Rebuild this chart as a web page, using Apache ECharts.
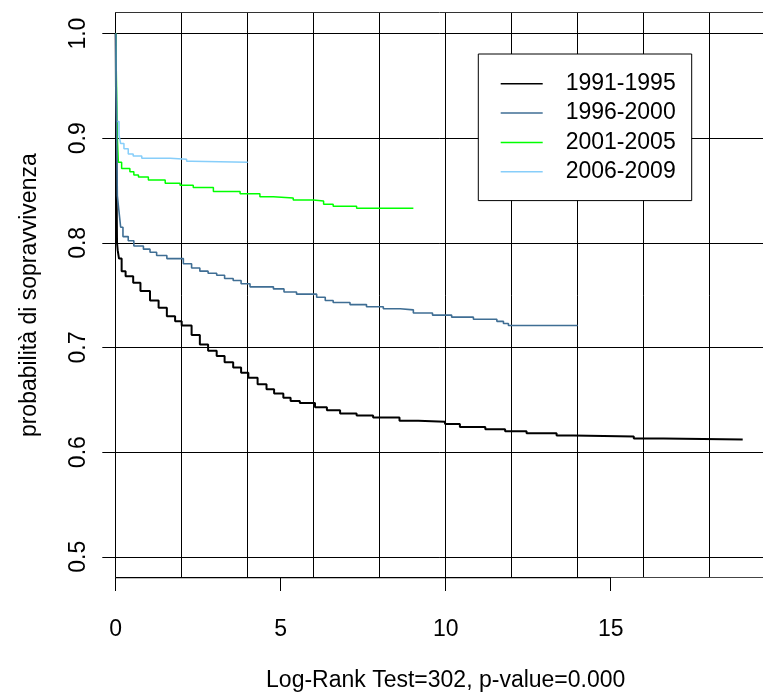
<!DOCTYPE html>
<html>
<head>
<meta charset="utf-8">
<script src="https://cdn.jsdelivr.net/npm/echarts@6/dist/echarts.min.js"></script>
<style>html,body{margin:0;padding:0;background:#fff;}#c{width:763px;height:692px;}</style>
</head>
<body>
<div id="c"></div>
<script>
const seriesNames = ['1991-1995', '1996-2000', '2001-2005', '2006-2009'];
const seriesColors = ['#000000', '#3F6E94', '#00FF00', '#87CEFA'];

const km1991 = [[0,1],[0.02,0.875],[0.04,0.80],[0.06,0.793],[0.1,0.785],[0.18,0.773],[0.3,0.768],[0.53,0.762],[0.75,0.754],[1.04,0.745],[1.3,0.738],[1.55,0.730],[1.8,0.725],[2.0,0.721],[2.3,0.712],[2.55,0.703],[2.8,0.697],[3.06,0.692],[3.3,0.686],[3.56,0.681],[3.8,0.676],[4.02,0.671],[4.3,0.665],[4.57,0.660],[4.8,0.656],[5.08,0.652],[5.3,0.649],[5.58,0.647],[6.04,0.643],[6.4,0.640],[6.8,0.637],[7.3,0.635],[7.8,0.633],[8.6,0.630],[9.17,0.629],[9.98,0.627],[10.43,0.624],[11.2,0.622],[11.8,0.620],[12.45,0.618],[13.36,0.616],[13.87,0.615],[15.7,0.613],[16.6,0.612],[19.0,0.612]];
const km1996 = [[0,1],[0.05,0.845],[0.1,0.83],[0.15,0.815],[0.22,0.806],[0.38,0.802],[0.55,0.797],[0.84,0.794],[1.04,0.791],[1.24,0.788],[1.55,0.785],[2.05,0.780],[2.3,0.776],[2.55,0.773],[2.8,0.771],[3.06,0.769],[3.3,0.766],[3.56,0.764],[3.8,0.761],[4.07,0.758],[4.78,0.756],[5.1,0.753],[5.48,0.751],[6.09,0.748],[6.35,0.745],[6.59,0.743],[7.1,0.741],[7.6,0.739],[8.11,0.737],[8.62,0.736],[9.02,0.733],[9.6,0.731],[10.18,0.729],[10.84,0.727],[11.55,0.725],[11.75,0.723],[11.9,0.721],[14.0,0.721]];
const km2001 = [[0,1],[0.05,0.90],[0.08,0.877],[0.18,0.871],[0.43,0.868],[0.55,0.865],[0.69,0.863],[0.99,0.860],[1.5,0.857],[1.95,0.855],[2.35,0.853],[2.96,0.849],[3.77,0.847],[4.37,0.844],[4.78,0.843],[5.38,0.841],[5.99,0.840],[6.3,0.837],[6.59,0.835],[7.3,0.833],[9.02,0.833]];
const km2006 = [[0,1],[0.03,0.916],[0.1,0.903],[0.15,0.895],[0.25,0.890],[0.38,0.885],[0.53,0.883],[0.79,0.881],[1.65,0.880],[2.15,0.878],[2.3,0.877],[4.0,0.877]];

const xTicks = [0, 5, 10, 15];
const yTicks = [0.5, 0.6, 0.7, 0.8, 0.9, 1.0];
const xMin = 0, xMax = 20, xGridStep = 2;
const yMin = 0.48, yMax = 1.02;
const xTitle = 'Log-Rank Test=302, p-value=0.000';
const yTitle = 'probabilità di sopravvivenza';

const FONT = 'Liberation Sans, Arial, Helvetica, sans-serif';
const FS = 23;

const chart = echarts.init(document.getElementById('c'), null, {renderer: 'canvas', width: 763, height: 692});

const curves = [km1991, km1996, km2001, km2006];
const zs = [2, 5, 3, 4];
const widths = [2, 1.6, 1.5, 1.5];
const series = curves.map((d, i) => ({
  name: seriesNames[i],
  type: 'line',
  step: 'end',
  data: d,
  symbol: 'none',
  z: zs[i],
  color: seriesColors[i],
  lineStyle: {color: seriesColors[i], width: widths[i]},
  animation: false,
  silent: true
}));
series.push({
  name: 'axis',
  type: 'line',
  data: [[xTicks[0], yMin], [xTicks[xTicks.length - 1], yMin]],
  symbol: 'none',
  lineStyle: {color: '#000', width: 1.6},
  z: 6,
  silent: true,
  animation: false
});

chart.setOption({
  backgroundColor: '#fff',
  animation: false,
  grid: {left: 115.7, top: 12.7, width: 660, height: 565, containLabel: false, outerBoundsMode: 'none'},
  legend: {
    data: seriesNames,
    orient: 'vertical',
    left: 478.3, top: 54,
    itemWidth: 42, itemHeight: 22, itemGap: 6.3,
    padding: [18.3, 16, 17.4, 22.4],
    backgroundColor: '#fff',
    borderColor: '#000', borderWidth: 1, borderRadius: 0,
    selectedMode: false,
    icon: 'path://M0,0 L42,0 L42,1.5 L0,1.5 Z',
    textStyle: {fontSize: FS, fontFamily: FONT, color: '#000', padding: [0, 0, 0, 18]}
  },
  xAxis: [
    {
      type: 'value', min: xMin, max: xMax, position: 'bottom',
      axisLine: {show: true, lineStyle: {color: '#444', width: 1}},
      axisTick: {show: true, inside: false, length: 13.3, customValues: xTicks, lineStyle: {color: '#000', width: 1}},
      axisLabel: {customValues: xTicks, margin: 40, fontSize: FS, fontFamily: FONT, color: '#000'},
      splitLine: {show: false},
      name: xTitle, nameLocation: 'middle', nameGap: 91,
      nameTextStyle: {fontSize: FS, fontFamily: FONT, color: '#000'}
    },
    {
      type: 'value', min: xMin, max: xMax, interval: xGridStep, position: 'top',
      axisLine: {show: true, lineStyle: {color: '#333', width: 1}},
      axisTick: {show: false}, axisLabel: {show: false},
      splitLine: {show: true, lineStyle: {color: '#000', width: 1}}
    }
  ],
  yAxis: [
    {
      type: 'value', min: yMin, max: yMax,
      axisLine: {show: true, lineStyle: {color: '#000', width: 1}},
      axisTick: {show: true, inside: false, length: 13.4, customValues: yTicks, lineStyle: {color: '#000', width: 1}},
      axisLabel: {customValues: yTicks, rotate: 90, margin: 26, fontSize: FS, fontFamily: FONT, color: '#000', formatter: v => Number(v).toFixed(1)},
      splitLine: {show: true, lineStyle: {color: '#000', width: 1}},
      name: yTitle, nameLocation: 'middle', nameGap: 75,
      nameTextStyle: {fontSize: FS, fontFamily: FONT, color: '#000'}
    }
  ],
  series: series
});
</script>
</body>
</html>
